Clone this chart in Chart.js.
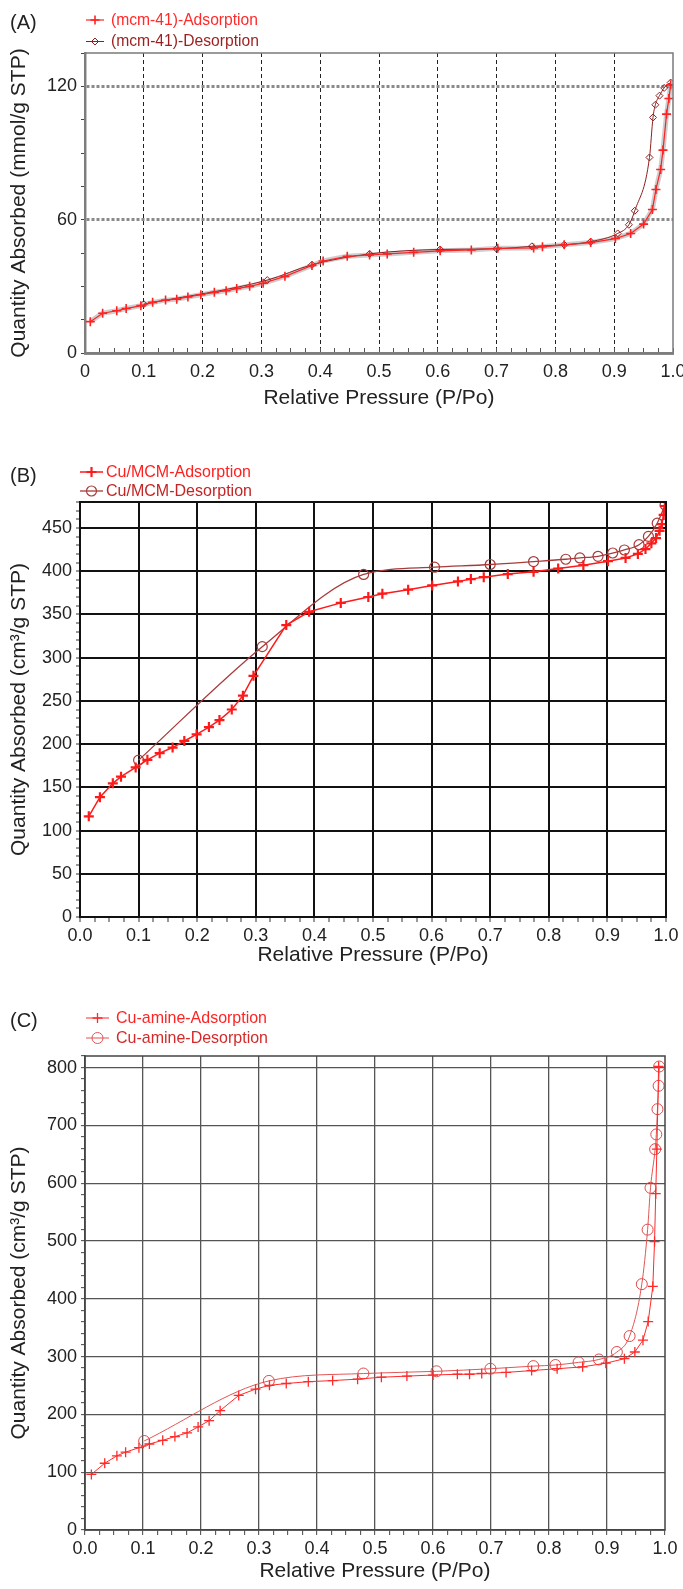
<!DOCTYPE html>
<html>
<head>
<meta charset="utf-8">
<script src="https://cdn.jsdelivr.net/npm/chart.js@4.4.1/dist/chart.umd.min.js"></script>
<style>
  html, body { margin: 0; padding: 0; background: #fff; }
  body { width: 683px; height: 1589px; position: relative; overflow: hidden; }
  .panel { position: absolute; left: 0; width: 700px; }
  #wrapA { top: 0; height: 413px; }
  #wrapB { top: 440px; height: 530px; }
  #wrapC { top: 975px; height: 611px; }
</style>
</head>
<body>
<div class="panel" id="wrapA"><canvas id="chartA"></canvas></div>
<div class="panel" id="wrapB"><canvas id="chartB"></canvas></div>
<div class="panel" id="wrapC"><canvas id="chartC"></canvas></div>
<script>
// --- data ---
// (A) mcm-41
const aAdsP = [0.009, 0.03, 0.054, 0.07, 0.095, 0.115, 0.137, 0.156, 0.175, 0.197, 0.22, 0.24, 0.258, 0.28, 0.303, 0.34, 0.386, 0.405, 0.446, 0.484, 0.514, 0.559, 0.604, 0.657, 0.702, 0.763, 0.778, 0.815, 0.86, 0.902, 0.928, 0.95, 0.965, 0.971, 0.979, 0.983, 0.989, 0.993, 0.996];
const aAdsQ = [14.1, 17.9, 19, 20, 21.3, 22.8, 23.8, 24.2, 25.2, 26.2, 27.3, 28, 29, 30, 31.4, 34.5, 39.4, 41.4, 43.5, 44.1, 44.6, 45.3, 46, 46.4, 47.1, 47.3, 47.8, 48.7, 49.7, 51.5, 53.8, 58, 64.6, 73.6, 82.6, 91.3, 107.5, 114.5, 120.7];
const aDesP = [0.1, 0.31, 0.386, 0.484, 0.604, 0.7, 0.76, 0.815, 0.86, 0.906, 0.925, 0.935, 0.96, 0.966, 0.97, 0.977, 0.985, 0.996];
const aDesQ = [22, 32.8, 39.7, 44.6, 46.6, 46.9, 48, 48.7, 50.1, 53.8, 57.7, 64, 88, 106, 111.7, 115.8, 119.3, 121.7];

// (B) Cu/MCM
const bAdsP = [0.015, 0.034, 0.056, 0.07, 0.095, 0.115, 0.136, 0.158, 0.178, 0.199, 0.22, 0.238, 0.259, 0.278, 0.296, 0.352, 0.391, 0.445, 0.492, 0.516, 0.56, 0.601, 0.645, 0.667, 0.689, 0.73, 0.774, 0.816, 0.859, 0.901, 0.931, 0.952, 0.965, 0.975, 0.983, 0.989, 0.993, 0.996, 0.998];
const bAdsQ = [116.4, 138.6, 154.6, 162.3, 173, 181.8, 189.5, 196, 203.6, 211.3, 219.7, 227.8, 240, 256, 279, 337.6, 353, 363.3, 370.1, 374, 378.6, 383.5, 388.1, 390.8, 393.1, 396.6, 399.2, 403, 406.9, 411.5, 415.3, 420, 425.6, 432.2, 438.3, 446.7, 454.4, 465, 475.4];
const bDesP = [0.1, 0.311, 0.484, 0.605, 0.7, 0.774, 0.829, 0.853, 0.884, 0.909, 0.929, 0.954, 0.97, 0.985, 0.9985];
const bDesQ = [181.4, 312.7, 396.2, 404.6, 407.7, 411.1, 413.8, 415.3, 417.2, 421, 424.5, 430.6, 440.2, 455.5, 476.6];

// (C) Cu-amine
const cAdsP = [0.011, 0.034, 0.055, 0.07, 0.093, 0.111, 0.134, 0.155, 0.176, 0.195, 0.214, 0.233, 0.265, 0.294, 0.318, 0.347, 0.385, 0.427, 0.47, 0.511, 0.555, 0.6, 0.642, 0.663, 0.684, 0.726, 0.77, 0.814, 0.858, 0.898, 0.93, 0.948, 0.962, 0.971, 0.979, 0.982, 0.984, 0.986, 0.989];
const cAdsQ = [96.2, 115.5, 128.3, 134.7, 142.4, 148.8, 155.2, 161.6, 168, 178.3, 189.2, 206.5, 232.8, 243.7, 250.2, 253.4, 256.6, 258.5, 261, 264.3, 266.2, 268.1, 269.4, 269.4, 270.7, 272.6, 275.8, 279, 282.2, 288.6, 296.3, 307.9, 328.4, 360.5, 421.4, 499, 581.8, 658.8, 801.8];
const cDesP = [0.102, 0.317, 0.48, 0.606, 0.699, 0.773, 0.811, 0.851, 0.886, 0.917, 0.939, 0.96, 0.97, 0.975, 0.983, 0.985, 0.987, 0.989, 0.99];
const cDesQ = [154, 257.9, 270.7, 274.5, 279, 283.5, 285.4, 290, 295, 307.9, 335.5, 425.3, 519.6, 592, 658.8, 684.4, 728, 768.4, 801.8];

const xMin = 0, xMax = 1;
const aYMax = 135, bYMax = 480, cYMax = 820;

const pts = (xs, ys) => xs.map((x, i) => ({ x, y: ys[i] }));
const isMult = (v, s) => Math.abs(v / s - Math.round(v / s)) < 1e-6;
const FONT = "'Liberation Sans', Arial, sans-serif";

// frame, panel letter and the two-row legend
const deco = {
    id: 'deco',
    afterDraw(chart, args, o) {
        const { ctx, chartArea: a } = chart;
        ctx.save();
        ctx.strokeStyle = o.frameColor;
        ctx.lineWidth = o.frameWidth;
        ctx.strokeRect(a.left, a.top, a.right - a.left, a.bottom - a.top);

        ctx.fillStyle = '#222';
        ctx.font = '20px ' + FONT;
        ctx.textBaseline = 'middle';
        ctx.textAlign = 'left';
        ctx.fillText(o.letter, 10, o.letterY);

        o.items.forEach(it => {
            const ds = chart.data.datasets[it.ds];
            ctx.strokeStyle = ds.borderColor;
            ctx.lineWidth = ds.borderWidth;
            ctx.beginPath();
            ctx.moveTo(o.lineX0, it.y);
            ctx.lineTo(o.lineX1, it.y);
            ctx.stroke();
            ctx.fillStyle = 'rgba(0,0,0,0)';
            ctx.lineWidth = ds.pointBorderWidth;
            if (Chart.helpers && Chart.helpers.drawPoint) {
                Chart.helpers.drawPoint(ctx, { pointStyle: ds.pointStyle, radius: ds.pointRadius, borderWidth: ds.pointBorderWidth, rotation: 0 }, (o.lineX0 + o.lineX1) / 2, it.y);
            }
            ctx.fillStyle = it.color;
            ctx.font = '17px ' + FONT;
            ctx.fillText(it.text, o.textX, it.y, it.width);
        });
        ctx.restore();
    }
};

function xAxis(opts) {
    const tl = opts.inward ? -5 : 5;
    return {
        type: 'linear', min: xMin, max: xMax,
        afterFit: s => { s.height = opts.height; },
        ticks: {
            stepSize: 0.025, autoSkip: false, maxRotation: 0, padding: opts.inward ? 13 : 3,
            color: '#222', font: { family: FONT, size: 18 },
            callback: v => isMult(v, 0.1) ? (v === 0 && opts.zeroPlain ? '0' : v.toFixed(1)) : ''
        },
        grid: {
            color: c => (c.tick && isMult(c.tick.value, 0.1) && c.tick.value > 0.01 && c.tick.value < 0.99) ? opts.gridColor : 'rgba(0,0,0,0)',
            lineWidth: opts.gridWidth, tickColor: opts.tickColor, tickLength: tl, tickWidth: 1
        },
        border: { display: true, color: opts.axisColor, width: opts.axisWidth, dash: opts.dash || [] },
        title: { display: true, text: 'Relative Pressure (P/Po)', color: '#222', font: { family: FONT, size: 21 }, padding: { top: 0, bottom: 2 } }
    };
}

function yAxis(opts) {
    return {
        type: 'linear', min: 0, max: opts.max,
        afterFit: s => { s.width = opts.width; },
        ticks: {
            stepSize: opts.minor, autoSkip: false, padding: 4,
            color: '#222', font: { family: FONT, size: 18 },
            callback: v => isMult(v, opts.major) ? String(v) : ''
        },
        grid: {
            color: c => (c.tick && isMult(c.tick.value, opts.major) && c.tick.value > 0 && c.tick.value < opts.max) ? opts.gridColor : 'rgba(0,0,0,0)',
            lineWidth: opts.gridWidth, tickColor: opts.tickColor, tickLength: 4, tickWidth: 1
        },
        border: { display: true, color: opts.axisColor, width: opts.axisWidth, dash: opts.dash || [] },
        title: { display: true, text: opts.title, color: '#222', font: { family: FONT, size: 21 }, padding: { top: 7, bottom: 0 } }
    };
}

const common = {
    responsive: true, maintainAspectRatio: false, animation: false,
    plugins: { legend: { display: false }, tooltip: { enabled: false } },
    elements: { line: { fill: false } }
};

// --- (A) ---
new Chart(document.getElementById('chartA'), {
    type: 'line',
    data: {
        datasets: [
            { data: pts(aAdsP, aAdsQ), borderColor: '#ff2222', borderWidth: 1.2, pointStyle: 'cross', pointRadius: 4.5, pointBorderWidth: 1.6, pointBorderColor: '#ff2222', tension: 0, order: 0 },
            { data: pts(aDesP, aDesQ), borderColor: '#8e2020', borderWidth: 1, pointStyle: 'rectRot', pointRadius: 3.5, pointBorderWidth: 1, pointBackgroundColor: 'rgba(0,0,0,0)', pointBorderColor: '#8e2020', cubicInterpolationMode: 'monotone', order: 1 },
            { data: pts(aAdsP, aAdsQ), borderColor: 'rgba(165,165,165,0.55)', borderWidth: 5, pointRadius: 0, tension: 0, order: 3 }
        ]
    },
    options: {
        ...common,
        layout: { padding: { top: 53, right: 27, left: 0, bottom: 0 } },
        scales: {
            x: xAxis({ height: 60, zeroPlain: true, inward: true, gridColor: '#222', gridWidth: 1, dash: [4, 3], tickColor: '#555', axisColor: '#8a8a8a', axisWidth: 3 }),
            y: yAxis({ width: 85, max: aYMax, minor: 15, major: 60, gridColor: '#8a8a8a', gridWidth: 3, dash: [3, 2], tickColor: '#444', axisColor: '#8a8a8a', axisWidth: 2.5, title: 'Quantity Absorbed (mmol/g STP)' })
        },
        plugins: {
            ...common.plugins,
            deco: {
                frameColor: '#7a7a7a', frameWidth: 1.5, letter: '(A)', letterY: 23,
                lineX0: 86, lineX1: 104, textX: 111,
                items: [
                    { ds: 0, y: 20, color: '#ff2a2a', text: '(mcm-41)-Adsorption', width: 147 },
                    { ds: 1, y: 41.5, color: '#9c1f1f', text: '(mcm-41)-Desorption', width: 148 }
                ]
            }
        }
    },
    plugins: [deco]
});

// --- (B) ---
new Chart(document.getElementById('chartB'), {
    type: 'line',
    data: {
        datasets: [
            { data: pts(bAdsP, bAdsQ), borderColor: '#ff1a1a', borderWidth: 1.5, pointStyle: 'cross', pointRadius: 5, pointBorderWidth: 2.2, pointBorderColor: '#ff1a1a', tension: 0, order: 0 },
            { data: pts(bDesP, bDesQ), borderColor: '#a83a3a', borderWidth: 1.3, pointStyle: 'circle', pointRadius: 5, pointBorderWidth: 1.2, pointBackgroundColor: 'rgba(0,0,0,0)', pointBorderColor: '#a83a3a', cubicInterpolationMode: 'monotone', order: 1 }
        ]
    },
    options: {
        ...common,
        layout: { padding: { top: 62, right: 34, left: 0, bottom: 0 } },
        scales: {
            x: xAxis({ height: 53, gridColor: '#111', gridWidth: 2, tickColor: '#333', axisColor: '#111', axisWidth: 2 }),
            y: yAxis({ width: 80, max: bYMax, minor: 10, major: 50, gridColor: '#111', gridWidth: 2, tickColor: '#333', axisColor: '#111', axisWidth: 2, title: 'Quantity Absorbed (cm³/g STP)' })
        },
        plugins: {
            ...common.plugins,
            deco: {
                frameColor: '#111', frameWidth: 2, letter: '(B)', letterY: 36,
                lineX0: 80, lineX1: 103, textX: 106,
                items: [
                    { ds: 0, y: 32, color: '#ff2020', text: 'Cu/MCM-Adsorption', width: 145 },
                    { ds: 1, y: 51, color: '#c42525', text: 'Cu/MCM-Desorption', width: 146 }
                ]
            }
        }
    },
    plugins: [deco]
});

// --- (C) ---
new Chart(document.getElementById('chartC'), {
    type: 'line',
    data: {
        datasets: [
            { data: pts(cAdsP, cAdsQ), borderColor: '#ff2a2a', borderWidth: 1, pointStyle: 'cross', pointRadius: 5, pointBorderWidth: 1.3, pointBorderColor: '#ff2a2a', tension: 0, order: 0 },
            { data: pts(cDesP, cDesQ), borderColor: '#e25555', borderWidth: 1, pointStyle: 'circle', pointRadius: 5.5, pointBorderWidth: 1, pointBackgroundColor: 'rgba(0,0,0,0)', pointBorderColor: '#e04848', cubicInterpolationMode: 'monotone', order: 1 }
        ]
    },
    options: {
        ...common,
        layout: { padding: { top: 81, right: 35, left: 0, bottom: 0 } },
        scales: {
            x: xAxis({ height: 56, gridColor: '#555', gridWidth: 1.3, tickColor: '#444', axisColor: '#444', axisWidth: 1.5 }),
            y: yAxis({ width: 85, max: cYMax, minor: 20, major: 100, gridColor: '#555', gridWidth: 1.3, tickColor: '#444', axisColor: '#444', axisWidth: 1.5, title: 'Quantity Absorbed (cm³/g STP)' })
        },
        plugins: {
            ...common.plugins,
            deco: {
                frameColor: '#444', frameWidth: 1.5, letter: '(C)', letterY: 46,
                lineX0: 86, lineX1: 109, textX: 116,
                items: [
                    { ds: 0, y: 43, color: '#ff2424', text: 'Cu-amine-Adsorption', width: 151 },
                    { ds: 1, y: 63, color: '#d42a2a', text: 'Cu-amine-Desorption', width: 152 }
                ]
            }
        }
    },
    plugins: [deco]
});
</script>
</body>
</html>
